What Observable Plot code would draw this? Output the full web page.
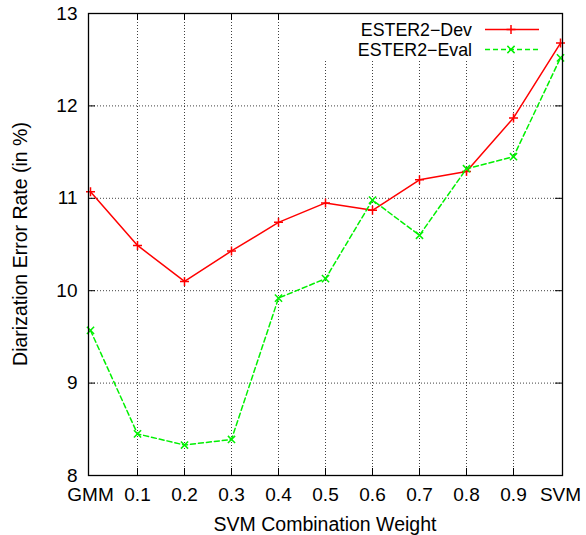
<!DOCTYPE html>
<html>
<head>
<meta charset="utf-8">
<script src="https://cdn.jsdelivr.net/npm/d3@7"></script>
<script src="https://cdn.jsdelivr.net/npm/@observablehq/plot@0.6"></script>
<style>
  html, body { margin: 0; padding: 0; background: #fff; }
</style>
</head>
<body>
<div id="chart"></div>
<script>
const categories = ["GMM", "0.1", "0.2", "0.3", "0.4", "0.5", "0.6", "0.7", "0.8", "0.9", "SVM"];
const devValues  = [11.07, 10.49, 10.10, 10.43, 10.74, 10.95, 10.87, 11.20, 11.29, 11.87, 12.68];
const evalValues = [9.57, 8.45, 8.33, 8.39, 9.92, 10.13, 10.98, 10.60, 11.32, 11.45, 12.52];
const yTicks = [8, 9, 10, 11, 12, 13];
const yGrid = [9, 10, 11, 12];
const seriesNames = ["ESTER2\u2212Dev", "ESTER2\u2212Eval"];
const xTitle = "SVM Combination Weight";
const yTitle = "Diarization Error Rate (in %)";

const dev = categories.map((c, i) => ({cat: c, v: devValues[i]}));
const ev = categories.map((c, i) => ({cat: c, v: evalValues[i]}));
const innerCats = categories.slice(1, -1);

const W = 586, H = 535;
const mL = 88, mR = 24, mT = 13, mB = 60;
const innerH = H - mT - mB;
const innerW = W - mL - mR;
const tickLen = 7;
const FONT = "'Liberation Sans', Arial, sans-serif";
const FS = 19.5;
const FT = 19;
const FL = 17.8;
const GREEN = "#00f000";
const RED = "#ff0000";

const plusSym = {draw(ctx) { const r = 4.5; ctx.moveTo(-r, 0); ctx.lineTo(r, 0); ctx.moveTo(0, -r); ctx.lineTo(0, r); }};
const timesSym = {draw(ctx) { const r = 3.6; ctx.moveTo(-r, -r); ctx.lineTo(r, r); ctx.moveTo(-r, r); ctx.lineTo(r, -r); }};

const chart = Plot.plot({
  width: W, height: H,
  marginLeft: mL, marginRight: mR, marginTop: mT, marginBottom: mB,
  style: {fontFamily: FONT, fontSize: FT + "px", background: "#fff", color: "#000"},
  x: {type: "point", domain: categories, padding: 0},
  y: {domain: [8, 13]},
  marks: [
    Plot.ruleY(yGrid, {y: d => d, stroke: "#000", strokeOpacity: 0.75, strokeWidth: 1, strokeDasharray: "1,2"}),
    Plot.ruleX(innerCats, {x: d => d, stroke: "#000", strokeOpacity: 0.75, strokeWidth: 1, strokeDasharray: "1,2"}),
    Plot.tickX(innerCats, {x: d => d, insetTop: innerH - tickLen, stroke: "#000", strokeWidth: 1}),
    Plot.tickX(innerCats, {x: d => d, insetBottom: innerH - tickLen, stroke: "#000", strokeWidth: 1}),
    Plot.tickY(yGrid, {y: d => d, insetRight: innerW - tickLen, stroke: "#000", strokeWidth: 1}),
    Plot.tickY(yGrid, {y: d => d, insetLeft: innerW - tickLen, stroke: "#000", strokeWidth: 1}),
    Plot.axisY(yTicks, {anchor: "left", tickSize: 0, tickPadding: 11, tickFormat: d => String(d), label: null, fontSize: FT}),
    Plot.axisX(categories, {anchor: "bottom", tickSize: 0, tickPadding: 12, label: null, fontSize: FT}),
    Plot.line(dev, {x: "cat", y: "v", stroke: RED, strokeWidth: 1.5}),
    Plot.line(ev, {x: "cat", y: "v", stroke: GREEN, strokeWidth: 1.5, strokeDasharray: "5,3"}),
    Plot.dot(dev, {x: "cat", y: "v", symbol: plusSym, stroke: RED, fill: "none", strokeWidth: 1.5}),
    Plot.dot(ev, {x: "cat", y: "v", symbol: timesSym, stroke: GREEN, fill: "none", strokeWidth: 1.5}),
    Plot.frame({stroke: "#000", strokeWidth: 1.3})
  ]
});

document.getElementById("chart").appendChild(chart);

const svg = d3.select(chart);
const firstLine = chart.querySelector('[aria-label="line"]');
const bg = document.createElementNS("http://www.w3.org/2000/svg", "rect");
bg.setAttribute("x", 312); bg.setAttribute("y", mT + 1);
bg.setAttribute("width", 248); bg.setAttribute("height", 46);
bg.setAttribute("fill", "#fff");
firstLine.parentNode.insertBefore(bg, firstLine);

const leg = svg.append("g").attr("font-family", FONT).attr("font-size", FL);
const legY = [29.5, 49.5];
const legColors = [RED, GREEN];
const legDash = [null, "5,3"];
seriesNames.forEach((name, i) => {
  leg.append("text").attr("x", 472).attr("y", legY[i]).attr("dy", "0.36em")
    .attr("text-anchor", "end").attr("fill", "#000").text(name);
  leg.append("line").attr("x1", 485).attr("x2", 539).attr("y1", legY[i]).attr("y2", legY[i])
    .attr("stroke", legColors[i]).attr("stroke-width", 1.5).attr("stroke-dasharray", legDash[i]);
  const p = i === 0
    ? `M${511 - 4.5},${legY[i]}h9M511,${legY[i] - 4.5}v9`
    : `M${511 - 3.6},${legY[i] - 3.6}l7.2,7.2M${511 - 3.6},${legY[i] + 3.6}l7.2,-7.2`;
  leg.append("path").attr("d", p).attr("stroke", legColors[i]).attr("stroke-width", 1.5).attr("fill", "none");
});

svg.append("text").attr("x", mL + innerW / 2).attr("y", 524).attr("dy", "0.36em")
  .attr("text-anchor", "middle").attr("font-family", FONT)
  .attr("font-size", FS).attr("fill", "#000").text(xTitle);
svg.append("text").attr("transform", `translate(20,${mT + innerH / 2}) rotate(-90)`).attr("dy", "0.36em")
  .attr("text-anchor", "middle").attr("font-family", FONT)
  .attr("font-size", FS).attr("fill", "#000").text(yTitle);
</script>
</body>
</html>
